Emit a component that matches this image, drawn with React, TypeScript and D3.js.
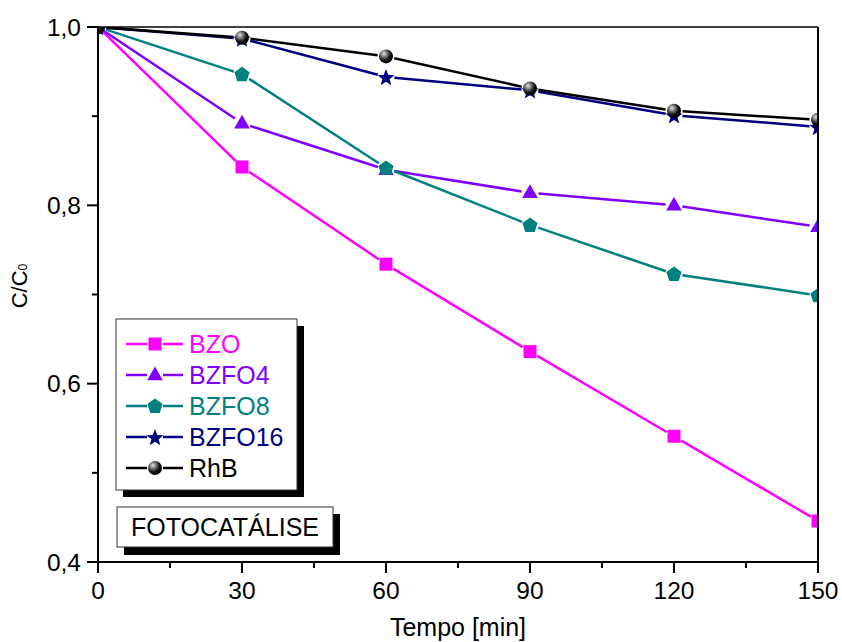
import React from "react";
import * as d3 from "d3";

const times = [0, 30, 60, 90, 120, 150];
const seriesNames = ["BZO", "BZFO4", "BZFO8", "BZFO16", "RhB"];
const bzo = [1.0, 0.843, 0.734, 0.636, 0.541, 0.446];
const bzfo4 = [1.0, 0.892, 0.84, 0.814, 0.8, 0.776];
const bzfo8 = [1.0, 0.947, 0.842, 0.778, 0.723, 0.699];
const bzfo16 = [1.0, 0.987, 0.944, 0.929, 0.901, 0.888];
const rhb = [1.0, 0.988, 0.967, 0.931, 0.906, 0.896];
const colors = ["#FF00FF", "#8000FF", "#008080", "#000080", "#000000"];
const shapes = ["square", "triangle", "pentagon", "star", "sphere"];
const xTicks = [0, 30, 60, 90, 120, 150];
const xMinor = [15, 45, 75, 105, 135];
const yTicks = [0.4, 0.6, 0.8, 1.0];
const yMinor = [0.5, 0.7, 0.9];

const FONT = "Arial, 'Liberation Sans', sans-serif";

const W = 842, H = 642;
const left = 98, right = 818, top = 27, bottom = 562;

function polyPath(pts: [number, number][]) {
  return "M" + pts.map((p) => p[0].toFixed(2) + "," + p[1].toFixed(2)).join("L") + "Z";
}

function Marker({ shape, color, x, y }: { shape: string; color: string; x: number; y: number }) {
  if (shape === "square") {
    return <rect x={x - 6.5} y={y - 6.5} width={13} height={13} fill={color} />;
  }
  if (shape === "triangle") {
    const r = 8.5;
    const pts: [number, number][] = [
      [x, y - r],
      [x + r * 0.92, y + r * 0.62],
      [x - r * 0.92, y + r * 0.62],
    ];
    return <path d={polyPath(pts)} fill={color} />;
  }
  if (shape === "pentagon") {
    const r = 8;
    const pts: [number, number][] = d3.range(5).map((i) => {
      const a = -Math.PI / 2 + (i * 2 * Math.PI) / 5;
      return [x + r * Math.cos(a), y + 0.5 + r * Math.sin(a)];
    });
    return <path d={polyPath(pts)} fill={color} />;
  }
  if (shape === "star") {
    const R = 9, r = 3.8;
    const pts: [number, number][] = d3.range(10).map((i) => {
      const a = -Math.PI / 2 + (i * Math.PI) / 5;
      const rr = i % 2 === 0 ? R : r;
      return [x + rr * Math.cos(a), y + 1 + rr * Math.sin(a)];
    });
    return <path d={polyPath(pts)} fill={color} />;
  }
  return <circle cx={x} cy={y} r={7} fill="url(#sphereGrad)" />;
}

function gappedSegments(pts: [number, number][], gap: number) {
  const segs: string[] = [];
  for (let i = 0; i < pts.length - 1; i++) {
    const [x1, y1] = pts[i];
    const [x2, y2] = pts[i + 1];
    const dx = x2 - x1, dy = y2 - y1;
    const len = Math.hypot(dx, dy);
    if (len <= 2 * gap) continue;
    const ux = dx / len, uy = dy / len;
    segs.push(
      `M${(x1 + ux * gap).toFixed(2)},${(y1 + uy * gap).toFixed(2)}L${(x2 - ux * gap).toFixed(2)},${(y2 - uy * gap).toFixed(2)}`
    );
  }
  return segs.join("");
}

export default function App() {
  const x = d3.scaleLinear().domain([0, 150]).range([left, right]);
  const y = d3.scaleLinear().domain([0.4, 1.0]).range([bottom, top]);
  const data = [bzo, bzfo4, bzfo8, bzfo16, rhb];

  const legendY0 = 344;
  const legendStep = 31;

  return (
    <svg width={W} height={H} style={{ position: "absolute", left: 0, top: 0, background: "#fff" }} fontFamily={FONT}>
      <defs>
        <clipPath id="plotClip">
          <rect x={left} y={top} width={right - left} height={bottom - top} />
        </clipPath>
        <radialGradient id="sphereGrad" cx="0.38" cy="0.35" r="0.65" fx="0.35" fy="0.3">
          <stop offset="0" stopColor="#e8e8e8" />
          <stop offset="0.35" stopColor="#777" />
          <stop offset="0.7" stopColor="#111" />
          <stop offset="1" stopColor="#000" />
        </radialGradient>
      </defs>
      <rect x={0} y={0} width={W} height={H} fill="#fff" />

      {/* data */}
      <g clipPath="url(#plotClip)">
        {data.map((vals, si) => {
          const pts: [number, number][] = vals.map((v, i) => [x(times[i]), y(v)]);
          return (
            <g key={si}>
              <path d={gappedSegments(pts, 8.5)} stroke={colors[si]} strokeWidth={2.5} fill="none" />
              {pts.map((p, i) => (
                <Marker key={i} shape={shapes[si]} color={colors[si]} x={p[0]} y={p[1]} />
              ))}
            </g>
          );
        })}
      </g>

      {/* frame */}
      <line x1={left} y1={top} x2={right} y2={top} stroke="#000" strokeWidth={1.6} />
      <line x1={right} y1={top} x2={right} y2={bottom} stroke="#000" strokeWidth={2} />
      <line x1={left} y1={bottom} x2={right + 1} y2={bottom} stroke="#000" strokeWidth={2} />
      <line x1={left} y1={top - 1} x2={left} y2={bottom + 1} stroke="#000" strokeWidth={2} />

      {/* x ticks */}
      {xTicks.map((t) => (
        <g key={"xt" + t}>
          <line x1={x(t)} x2={x(t)} y1={bottom} y2={bottom + 11} stroke="#000" strokeWidth={2} />
          <text x={x(t)} y={599} fontSize={24.5} textAnchor="middle" fill="#000">
            {t}
          </text>
        </g>
      ))}
      {xMinor.map((t) => (
        <line key={"xm" + t} x1={x(t)} x2={x(t)} y1={bottom} y2={bottom + 6} stroke="#000" strokeWidth={2} />
      ))}

      {/* y ticks */}
      {yTicks.map((t) => (
        <g key={"yt" + t}>
          <line x1={left - 11} x2={left} y1={y(t)} y2={y(t)} stroke="#000" strokeWidth={2} />
          <text x={81} y={y(t) + 8.5} fontSize={24.5} textAnchor="end" fill="#000">
            {t.toFixed(1).replace(".", ",")}
          </text>
        </g>
      ))}
      {yMinor.map((t) => (
        <line key={"ym" + t} x1={left - 6} x2={left} y1={y(t)} y2={y(t)} stroke="#000" strokeWidth={2} />
      ))}

      {/* axis titles */}
      <text x={(left + right) / 2} y={636} fontSize={25} textAnchor="middle" fill="#000">
        Tempo [min]
      </text>
      <text transform="translate(27,286) rotate(-90)" fontSize={22} textAnchor="middle" fill="#000">
        C/C<tspan fontSize={12}>0</tspan>
      </text>

      {/* legend */}
      <rect x={123} y={326} width={181} height={171} fill="#000" />
      <rect x={116} y={319} width={181} height={171} fill="#fff" stroke="#333" strokeWidth={1} />
      {seriesNames.map((name, si) => {
        const ly = legendY0 + si * legendStep;
        return (
          <g key={name}>
            <line x1={126} x2={147} y1={ly} y2={ly} stroke={colors[si]} strokeWidth={2.5} />
            <line x1={163} x2={183} y1={ly} y2={ly} stroke={colors[si]} strokeWidth={2.5} />
            <Marker shape={shapes[si]} color={colors[si]} x={155} y={ly} />
            <text x={189} y={ly + 9} fontSize={25} fill={colors[si]}>
              {name}
            </text>
          </g>
        );
      })}

      {/* annotation box */}
      <rect x={124} y={514} width={216} height={41} fill="#000" />
      <rect x={117} y={507} width={216} height={40} fill="#fff" stroke="#333" strokeWidth={1} />
      <text x={225} y={536} fontSize={25} textAnchor="middle" fill="#000">
        FOTOCATÁLISE
      </text>
    </svg>
  );
}
